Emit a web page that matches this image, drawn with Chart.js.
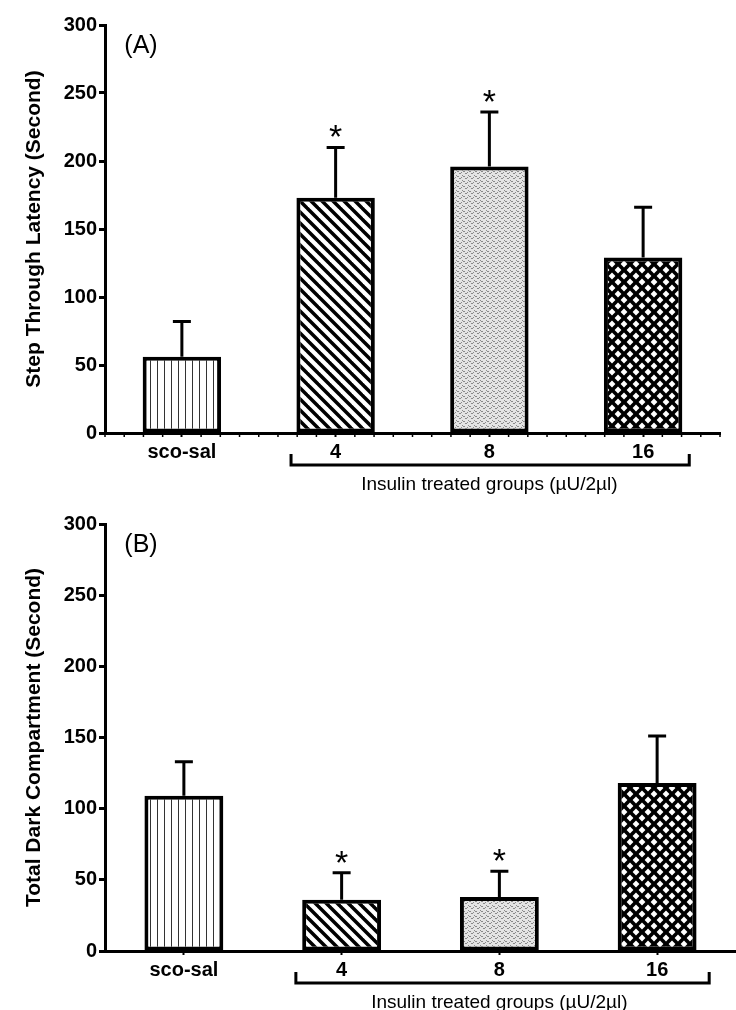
<!DOCTYPE html>
<html>
<head>
    <title>Step Through / Dark Compartment</title>
    <script src="https://cdn.jsdelivr.net/npm/chart.js"></script>
    <style>
        body { margin: 0; background: #fff; }
        .panel { position: relative; width: 736px; }
    </style>
</head>
<body>
    <div class="panel" style="height:500px"><canvas id="plotA"></canvas></div>
    <div class="panel" style="height:510px"><canvas id="plotB"></canvas></div>

    <script>
        // groups and values
        const groups = ['sco-sal', '4', '8', '16'];
        const latencyMean = [56, 173, 196, 129];
        const latencySem = [26, 37, 40, 37];
        const latencySig = [false, true, true, false];
        const darkMean = [109, 36, 38, 118];
        const darkSem = [24, 19, 18, 33];
        const darkSig = [false, true, true, false];
        const yTicks = [0, 50, 100, 150, 200, 250, 300];
        const groupLabel = 'Insulin treated groups (\u00b5U/2\u00b5l)';

        const FONT = '"Liberation Sans", Arial, sans-serif';

        function tile(w, h, draw) {
            const c = document.createElement('canvas');
            c.width = w; c.height = h;
            const g = c.getContext('2d');
            draw(g, w, h);
            return document.createElement('canvas').getContext('2d').createPattern(c, 'repeat');
        }

        // fills for the four bars
        const vertical = tile(7, 7, (g, w, h) => {
            g.fillStyle = '#fff'; g.fillRect(0, 0, w, h);
            g.fillStyle = '#333'; g.fillRect(3, 0, 1, h);
        });
        const diagonal = tile(11, 11, (g, w, h) => {
            g.fillStyle = '#fff'; g.fillRect(0, 0, w, h);
            g.strokeStyle = '#000'; g.lineWidth = 3.5;
            for (const d of [-11, 0, 11]) {
                g.beginPath(); g.moveTo(d - 1, -1); g.lineTo(d + 12, 12); g.stroke();
            }
        });
        const stipple = tile(6, 5, (g, w, h) => {
            g.fillStyle = '#e4e4e4'; g.fillRect(0, 0, w, h);
            g.fillStyle = '#8a8a8a';
            g.fillRect(0, 0, 1, 1); g.fillRect(2, 1, 1, 1); g.fillRect(1, 1, 1, 1);
            g.fillRect(3, 3, 1, 1); g.fillRect(5, 2, 1, 1); g.fillRect(4, 3, 1, 1);
        });
        const crosshatch = tile(12, 12, (g, w, h) => {
            g.fillStyle = '#000'; g.fillRect(0, 0, w, h);
            g.fillStyle = '#fff';
            const dia = (cx, cy) => {
                g.beginPath();
                g.moveTo(cx, cy - 3.4); g.lineTo(cx + 3.4, cy);
                g.lineTo(cx, cy + 3.4); g.lineTo(cx - 3.4, cy); g.closePath(); g.fill();
            };
            dia(6, 6); dia(0, 0); dia(12, 0); dia(0, 12); dia(12, 12);
        });
        const fills = [vertical, diagonal, stipple, crosshatch];

        // error bars, asterisks, bracket, labels
        const annot = {
            id: 'annot',
            afterDatasetsDraw(chart, args, o) {
                const ctx = chart.ctx, x = chart.scales.x, y = chart.scales.y;
                const area = chart.chartArea;
                const mean = chart.data.datasets[0].data;
                ctx.save();
                ctx.strokeStyle = '#000';
                ctx.fillStyle = '#000';
                ctx.lineWidth = 3;
                mean.forEach((m, i) => {
                    const px = x.getPixelForValue(i);
                    const top = y.getPixelForValue(m + o.sem[i]);
                    ctx.beginPath();
                    ctx.moveTo(px, y.getPixelForValue(m));
                    ctx.lineTo(px, top);
                    ctx.moveTo(px - 9, top);
                    ctx.lineTo(px + 9, top);
                    ctx.stroke();
                    if (o.sig[i]) {
                        ctx.font = '34px ' + FONT;
                        ctx.textAlign = 'center';
                        ctx.textBaseline = 'alphabetic';
                        ctx.fillText('*', px, top + 1);
                    }
                });
                if (o.minor) {
                    ctx.lineWidth = 1.5;
                    ctx.beginPath();
                    for (let k = -0.5; k <= 3.5; k += 0.125) {
                        if (Math.abs(k - Math.round(k)) < 0.01) continue;
                        const px = x.getPixelForValue(k);
                        ctx.moveTo(px, area.bottom);
                        ctx.lineTo(px, area.bottom + 4);
                    }
                    ctx.stroke();
                }
                // bracket under the insulin groups
                const bl = x.getPixelForValue(0.71), br = x.getPixelForValue(o.bracketEnd);
                const b0 = area.bottom + 21, b1 = area.bottom + 32;
                ctx.lineWidth = 3;
                ctx.beginPath();
                ctx.moveTo(bl, b0); ctx.lineTo(bl, b1); ctx.lineTo(br, b1); ctx.lineTo(br, b0);
                ctx.stroke();
                ctx.font = '19px ' + FONT;
                ctx.textAlign = 'center';
                ctx.textBaseline = 'middle';
                ctx.fillText(groupLabel, x.getPixelForValue(2), area.bottom + 52);
                ctx.font = '25px ' + FONT;
                ctx.fillText(o.letter, area.left + 36, area.top + 21);
                ctx.restore();
            }
        };

        function makeChart(id, mean, sem, sig, title, letter, opts) {
            return new Chart(document.getElementById(id), {
                type: 'bar',
                data: {
                    labels: groups,
                    datasets: [{
                        data: mean,
                        backgroundColor: fills,
                        borderColor: '#000',
                        borderWidth: 4,
                        borderSkipped: false,
                        barPercentage: opts.bar,
                        categoryPercentage: 1
                    }]
                },
                options: {
                    responsive: true,
                    maintainAspectRatio: false,
                    animation: false,
                    layout: { padding: { top: opts.top, right: opts.right, bottom: 0, left: 0 } },
                    plugins: {
                        legend: { display: false },
                        tooltip: { enabled: false },
                        annot: { sem: sem, sig: sig, letter: letter, minor: opts.minor, bracketEnd: opts.bracketEnd }
                    },
                    scales: {
                        x: {
                            afterFit: s => { s.height = opts.xh; },
                            border: { display: true, color: '#000', width: 3 },
                            grid: { display: true, drawOnChartArea: false, offset: false, tickLength: 4, tickWidth: 2, tickColor: '#000' },
                            ticks: { color: '#000', padding: 3, font: { family: FONT, size: 20, weight: 'bold' } }
                        },
                        y: {
                            min: 0,
                            max: 300,
                            afterFit: s => { s.width = 105; },
                            afterBuildTicks: s => { s.ticks = yTicks.map(v => ({ value: v })); },
                            border: { display: true, color: '#000', width: 3 },
                            grid: { display: true, drawOnChartArea: false, tickLength: 6, tickWidth: 3, tickColor: '#000' },
                            ticks: { color: '#000', padding: 2, font: { family: FONT, size: 20, weight: 'bold' } },
                            title: {
                                display: true,
                                text: title,
                                color: '#000',
                                padding: { top: 22, bottom: 0 },
                                font: { family: FONT, size: 21, weight: 'bold' }
                            }
                        }
                    }
                },
                plugins: [annot]
            });
        }

        makeChart('plotA', latencyMean, latencySem, latencySig, 'Step Through Latency (Second)', '(A)',
            { top: 25, right: 16, xh: 67, bar: 0.51, minor: true, bracketEnd: 3.3 });
        makeChart('plotB', darkMean, darkSem, darkSig, 'Total Dark Compartment (Second)', '(B)',
            { top: 24, right: -5, xh: 59, bar: 0.5, minor: false, bracketEnd: 3.33 });
    </script>
</body>
</html>
